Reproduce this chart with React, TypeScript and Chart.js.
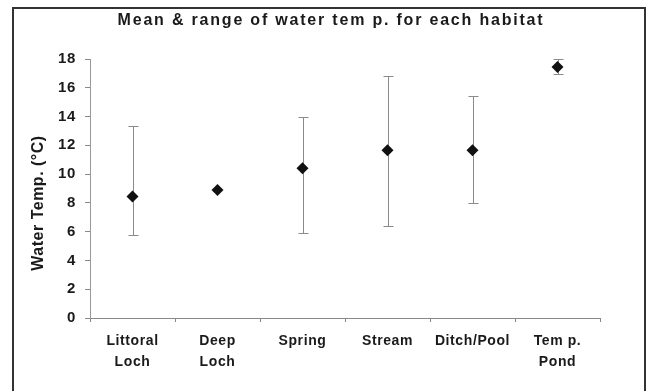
import React, { useEffect, useRef } from "react";
import { Chart, registerables } from "chart.js";

Chart.register(...registerables);

const categories: string[][] = [
  ["Littoral", "Loch"],
  ["Deep", "Loch"],
  ["Spring"],
  ["Stream"],
  ["Ditch/Pool"],
  ["Tem p.", "Pond"],
];
const meanTemp: number[] = [8.45, 8.9, 10.4, 11.65, 11.65, 17.45];
const minTemp: (number | null)[] = [5.8, null, 5.9, 6.4, 8.0, 16.95];
const maxTemp: (number | null)[] = [13.35, null, 13.95, 16.85, 15.45, 18.0];
const yTicks: number[] = [0, 2, 4, 6, 8, 10, 12, 14, 16, 18];
const chartTitle = "Mean & range of water tem p. for each habitat";
const yTitle = "Water Temp. (°C)";

const FONT = "'Liberation Sans', Arial, sans-serif";

const spacing = {
  id: "spacing",
  beforeUpdate(chart: any) {
    (chart.ctx as any).letterSpacing = "0.6px";
  },
  beforeDraw(chart: any) {
    (chart.ctx as any).letterSpacing = "0.6px";
  },
};

const errorBars = {
  id: "errorBars",
  beforeDatasetsDraw(chart: any) {
    const { ctx, scales } = chart;
    const x = scales.x;
    const y = scales.y;
    ctx.save();
    ctx.strokeStyle = "#8a8a8a";
    ctx.lineWidth = 1;
    for (let i = 0; i < meanTemp.length; i++) {
      const lo = minTemp[i];
      const hi = maxTemp[i];
      if (lo == null || hi == null) continue;
      const px = Math.round(x.getPixelForValue(i)) + 0.5;
      const pLo = Math.round(y.getPixelForValue(lo)) + 0.5;
      const pHi = Math.round(y.getPixelForValue(hi)) + 0.5;
      ctx.beginPath();
      ctx.moveTo(px, pLo);
      ctx.lineTo(px, pHi);
      ctx.moveTo(px - 5, pLo);
      ctx.lineTo(px + 5, pLo);
      ctx.moveTo(px - 5, pHi);
      ctx.lineTo(px + 5, pHi);
      ctx.stroke();
    }
    ctx.restore();
  },
};

const titles = {
  id: "titles",
  afterDraw(chart: any) {
    const { ctx } = chart;
    ctx.save();
    ctx.fillStyle = "#1a1a1a";
    ctx.textAlign = "center";
    ctx.textBaseline = "middle";
    ctx.font = `bold 16px ${FONT}`;
    (ctx as any).letterSpacing = "1.8px";
    ctx.fillText(chartTitle, 331, 21);
    (ctx as any).letterSpacing = "0.5px";
    ctx.translate(39, 203);
    ctx.rotate(-Math.PI / 2);
    ctx.font = `bold 16px ${FONT}`;
    ctx.fillText(yTitle, 0, 0);
    ctx.restore();
  },
};

export default function App() {
  const ref = useRef<HTMLCanvasElement>(null);
  useEffect(() => {
    if (!ref.current) return;
    const chart = new Chart(ref.current, {
      type: "line",
      data: {
        labels: categories,
        datasets: [
          {
            data: meanTemp,
            showLine: false,
            pointStyle: "rectRot",
            pointRadius: 6,
            backgroundColor: "#111",
            borderColor: "#111",
            borderWidth: 0,
          },
        ],
      },
      options: {
        responsive: false,
        animation: false,
        layout: { padding: { top: 59, right: 52, left: 0, bottom: 0 } },
        plugins: { legend: { display: false }, tooltip: { enabled: false } },
        clip: false as any,
        scales: {
          x: {
            offset: true,
            grid: {
              offset: true,
              drawOnChartArea: false,
              drawTicks: true,
              tickLength: 4,
              color: "#888",
            },
            border: { color: "#888", width: 1 },
            ticks: {
              color: "#1a1a1a",
              padding: 9,
              maxRotation: 0,
              font: { family: FONT, size: 14, weight: "bold", lineHeight: 1.5 },
            },
            afterFit(scale: any) {
              scale.height = 73;
            },
          },
          y: {
            min: 0,
            max: 18,
            afterBuildTicks(scale: any) {
              scale.ticks = yTicks.map((v) => ({ value: v }));
            },
            grid: {
              drawOnChartArea: false,
              drawTicks: true,
              tickLength: 5,
              color: "#888",
            },
            border: { color: "#999", width: 1 },
            ticks: {
              color: "#1a1a1a",
              padding: 9,
              font: { family: FONT, size: 15, weight: "bold" },
            },
            afterFit(scale: any) {
              scale.width = 90;
            },
          },
        },
      },
      plugins: [spacing, errorBars, titles],
    });
    return () => chart.destroy();
  }, []);
  return (
    <div
      style={{
        position: "fixed",
        left: 0,
        top: 0,
        width: 652,
        height: 391,
        background: "#fff",
        overflow: "hidden",
      }}
    >
      <div
        style={{
          position: "absolute",
          left: 12,
          top: 7,
          width: 630,
          height: 400,
          border: "2px solid #333",
        }}
      />
      <canvas
        ref={ref}
        width={652}
        height={391}
        style={{ position: "absolute", left: 0, top: 0 }}
      />
    </div>
  );
}
